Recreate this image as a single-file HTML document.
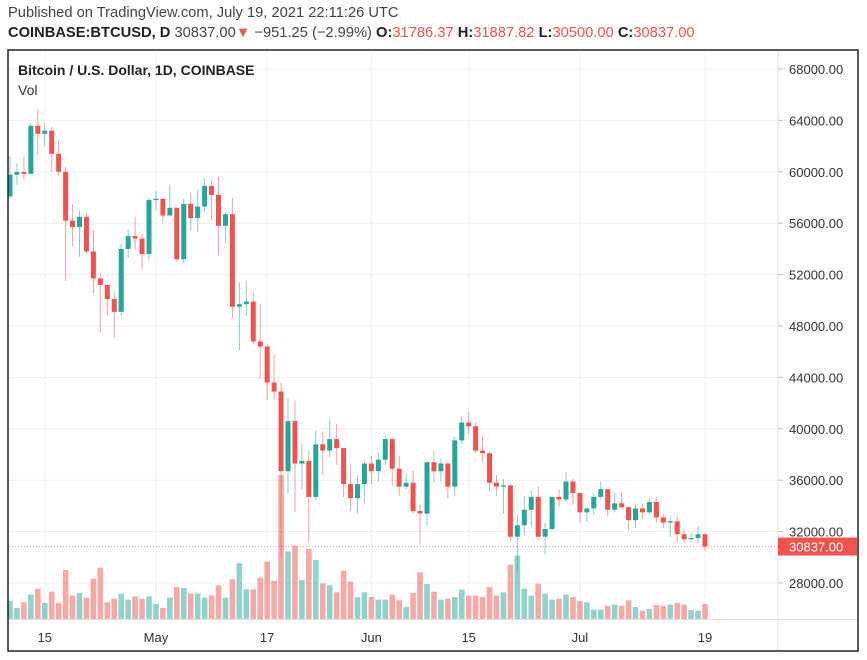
<!DOCTYPE html>
<html><head><meta charset="utf-8">
<style>
html,body{margin:0;padding:0;background:#fff;}
body{width:867px;height:660px;overflow:hidden;font-family:"Liberation Sans",sans-serif;color:#333;}
.l1{position:absolute;left:8px;top:5px;font-size:14.7px;color:#444;}
.l2{position:absolute;left:8px;top:25px;font-size:14.7px;color:#444;white-space:nowrap;}
.b{font-weight:bold;color:#222;}
.r{color:#ef5350;}
svg{position:absolute;left:0;top:0;}
</style></head>
<body>
<div class="l1">Published on TradingView.com, July 19, 2021 22:11:26 UTC</div>
<div class="l2"><span class="b">COINBASE:BTCUSD, D</span> 30837.00<span class="r">▼</span> −951.25 (−2.99%) <span class="b">O:</span><span class="r">31786.37</span> <span class="b">H:</span><span class="r">31887.82</span> <span class="b">L:</span><span class="r">30500.00</span> <span class="b">C:</span><span class="r">30837.00</span></div>
<svg id="chart" width="867" height="660">
<g id="grid"></g>
<g id="vol"></g>
<g id="candles"></g>
<g id="axes"></g>
<rect x="8" y="50" width="850" height="601" fill="none" stroke="#222" stroke-width="1.5"/>
<text x="18" y="75" font-size="14" font-weight="bold" fill="#222">Bitcoin / U.S. Dollar, 1D, COINBASE</text>
<text x="18" y="95" font-size="14" fill="#333">Vol</text>
</svg>
<script>
const opens=[58090,59770,59980,59840,63580,62960,63200,61400,60000,56200,55700,56500,53800,51700,51200,50100,49100,54000,55000,54800,53600,57800,57900,56600,57200,53200,57500,56400,57300,58900,58200,55800,56700,49500,49700,49900,46800,46400,43600,42900,36700,40600,37300,37500,34700,38800,38300,39200,38500,35700,34600,35700,37300,36700,37600,39200,36900,35500,35800,33600,33400,37400,36700,37300,35500,39100,40500,40200,38300,38100,35800,35500,35600,31600,32500,33700,34700,31600,32200,34700,34500,35900,35000,33500,33800,34700,35300,33700,34200,33900,32900,33800,33500,34300,33100,32700,32800,31800,31400,31500,31786];
const closes=[59770,59980,59840,63580,62960,63200,61400,60000,56200,55700,56500,53800,51700,51200,50100,49100,54000,55000,54800,53600,57800,57900,56600,57200,53200,57500,56400,57300,58900,58200,55800,56700,49500,49700,49900,46800,46400,43600,42900,36700,40600,37300,37500,34700,38800,38300,39200,38500,35700,34600,35700,37300,36700,37600,39200,36900,35500,35800,33600,33400,37400,36700,37300,35500,39100,40500,40200,38300,38100,35800,35500,35600,31600,32500,33700,34700,31600,32200,34700,34500,35900,35000,33500,33800,34700,35300,33700,34200,33900,32900,33800,33500,34300,33100,32700,32800,31800,31400,31500,31786,30837];
const highs=[61200,60700,61200,63800,64900,63800,63500,62500,60400,57500,57000,56800,55500,52100,51200,50600,54400,55500,56500,55200,58000,58500,57900,59000,57200,57900,58400,58600,59500,59300,59600,56900,58000,51400,51500,50700,49700,46600,45800,43600,42400,42200,38800,38300,39900,39800,40800,40400,38300,37300,36400,37500,37900,38200,39500,39300,37900,36500,36800,34100,37500,38300,37700,37400,39400,41000,41300,40500,39500,38200,36400,36100,35700,33300,34800,35200,35500,32700,34700,35300,36600,36100,35000,33900,35000,35900,35300,35000,35100,33900,34100,34200,34600,34700,33300,33100,33200,32200,31900,32400,31888];
const lows=[57900,59000,59380,59800,61300,62000,60000,59700,51500,54200,53400,53600,50500,47500,48800,47100,48800,53300,53900,52400,53100,57000,56000,56500,53000,52900,55400,55300,56900,56300,53500,54500,48600,46100,48800,46600,43900,42200,42300,30000,35000,33500,35300,31100,34400,36400,37800,37200,34700,33600,33400,34200,35700,35900,37200,35600,34800,35300,33400,31000,32400,35800,35900,34600,34800,38800,39500,38100,37400,35200,34800,33400,31300,28800,31700,32400,31300,30200,32000,33900,34300,34100,32700,32700,33300,34500,33200,33500,33800,32100,32300,33000,33400,32700,32300,31600,31200,31100,31200,31100,30500];
const volumes=[55,33,50,73,91,48,82,48,147,70,78,64,121,154,50,61,76,58,68,61,68,45,33,64,96,93,76,76,64,71,101,64,119,168,89,89,124,172,115,432,203,220,117,211,177,107,101,80,145,112,65,80,66,58,58,73,56,36,78,140,105,82,58,61,66,88,70,70,66,96,70,80,163,190,91,70,106,76,58,61,73,66,54,50,28,28,40,43,40,56,36,25,30,42,40,43,48,43,27,25,45];
const priceTicks=[68000,64000,60000,56000,52000,48000,44000,40000,36000,32000,28000];
const dateLabels=["15","May","17","Jun","15","Jul","19"];
const dateIdx=[5,21,37,52,66,82,100];
const lastPrice=30837;

const NS="http://www.w3.org/2000/svg";
function yP(p){return 69+(68000-p)*0.01285;}
function xI(i){return 10+6.95*i;}
function yV(v){return 619-v/3;}
function mk(tag,attrs,parent){const e=document.createElementNS(NS,tag);for(const k in attrs)e.setAttribute(k,attrs[k]);parent.appendChild(e);return e;}
const grid=document.getElementById('grid'),vol=document.getElementById('vol'),cg=document.getElementById('candles'),ax=document.getElementById('axes');

priceTicks.forEach(p=>{
  const l=mk('line',{x1:9,x2:778,y1:yP(p),y2:yP(p),stroke:'#f0f0f0','stroke-width':1},grid);
  
  
  const t=mk('line',{x1:778,x2:783,y1:yP(p),y2:yP(p),stroke:'#bbb'},ax);
  
  
  const tx=mk('text',{x:789,y:yP(p)+5,'font-size':13,fill:'#333'},ax);
  tx.textContent=p.toFixed(2);
  
  
});
dateIdx.forEach((d,k)=>{
  const x=xI(d);
  const l=mk('line',{x1:x,x2:x,y1:51,y2:619,stroke:'#f0f0f0'},grid);
  
  
  const tx=mk('text',{x:x,y:642,'font-size':13,fill:'#333','text-anchor':'middle'},ax);
  tx.textContent=dateLabels[k];
  
  
});
const sep=mk('line',{x1:778,x2:778,y1:51,y2:650,stroke:'#e0e0e0'},ax);


const tsep=mk('line',{x1:9,x2:857,y1:619.5,y2:619.5,stroke:'#e0e0e0'},ax);



volumes.forEach((v,i)=>{
  const up=closes[i]>=opens[i];
  const r=mk('rect',{x:xI(i)-2.8,y:yV(v),width:5.6,height:619-yV(v),fill:up?'#26a69a':'#ef5350','fill-opacity':0.5},vol);
  
  
});

const lp=mk('line',{x1:9,x2:778,y1:yP(lastPrice),y2:yP(lastPrice),stroke:'#ef5350','stroke-dasharray':'1 2','stroke-opacity':0.6},ax);



opens.forEach((o,i)=>{
  const c=closes[i],up=c>=o,col=up?'#26a69a':'#ef5350',x=xI(i);
  const w=mk('line',{x1:x,x2:x,y1:yP(highs[i]),y2:yP(lows[i]),stroke:col,'stroke-width':1,'stroke-opacity':0.55},cg);
  
  
  const top=yP(Math.max(o,c)),bot=yP(Math.min(o,c));
  const b=mk('rect',{x:x-2.5,y:top,width:5,height:Math.max(1,bot-top),fill:col},cg);
  
  
});

const badge=mk('rect',{x:778,y:yP(lastPrice)-9,width:79,height:18,fill:'#ef5350'},ax);


const bt=mk('text',{x:789,y:yP(lastPrice)+5,'font-size':13,fill:'#fff'},ax);
bt.textContent=lastPrice.toFixed(2);


</script>
</body></html>
